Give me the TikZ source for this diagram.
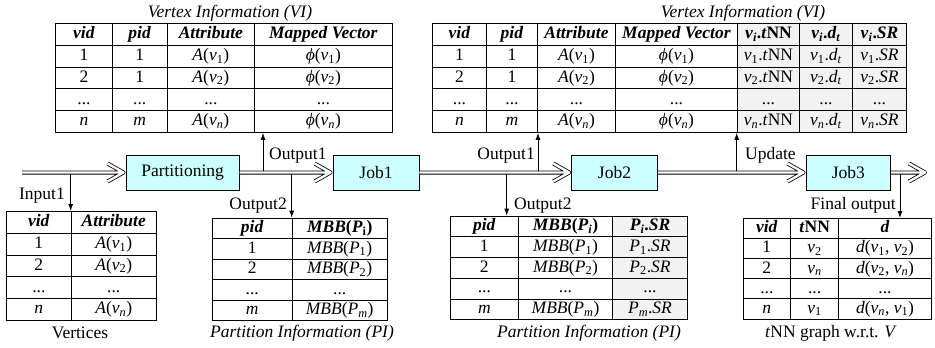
\documentclass[tikz,border=0pt]{standalone}
\usepackage{fontspec}
\setmainfont{Liberation Serif}[UprightFont=*, BoldFont=* Bold, ItalicFont=* Italic, BoldItalicFont=* Bold Italic]
\usetikzlibrary{matrix,arrows.meta}
\definecolor{boxfill}{HTML}{CCFFFF}
\definecolor{shade}{HTML}{F2F2F2}
\newcommand\sbs[1]{\textsubscript{#1}}
\newcommand\vv[1]{\textit{v}\sbs{#1}}
\newcommand\bi[1]{\textbf{\textit{#1}}}
\newcommand\ph[1]{\textit{ϕ}(\vv{#1})}
\tikzset{
  tbl/.style={matrix of nodes, outer sep=0pt, inner sep=0pt, row sep=-1pt, column sep=-1pt, anchor=north west,
    nodes={draw, line width=1pt, inner sep=0pt, text height=12.5pt, text depth=4pt, anchor=center}},
  rh/.style={nodes={minimum height=#1}},
  cw/.style={nodes={minimum width=#1}},
  sh/.style={nodes={fill=shade}},
  job/.style={draw, fill=boxfill, line width=0.9pt, minimum height=35pt, inner sep=0pt},
  flowouter/.style={draw=black, line width=4pt, line join=round},
  flowinner/.style={draw=white, line width=2.4pt, line join=round},
  conn/.style={line width=0.9pt, -{Latex[length=7pt,width=5pt]}},
  lbl/.style={inner sep=0pt},
}
% double-line flow arrow with open double chevron head: from #1 to #2
\newcommand\flowarrow[2]{%
  \foreach \fstyle in {flowouter,flowinner}{%
    \draw[\fstyle] (#1) -- ([xshift=-3pt]#2)
      ([xshift=-18pt,yshift=9pt]#2) -- ([xshift=-2pt]#2) -- ([xshift=-18pt,yshift=-9pt]#2);
  }%
}
\begin{document}
\begin{tikzpicture}[x=1pt, y=-1pt, font=\fontsize{17.5}{21}\selectfont]
\useasboundingbox (0,0) rectangle (935,348);

% ---------- tables ----------
\matrix[tbl, rh=21.7pt, column 1/.style={cw=56.4pt}, column 2/.style={cw=55pt},
  column 3/.style={cw=87.3pt}, column 4/.style={cw=137.7pt}] (vi1) at (55.3,23.3) {
  \bi{vid} & \bi{pid} & \bi{Attribute} & \bi{Mapped Vector} \\
  1 & 1 & \textit{A}(\vv{1}) & \ph{1} \\
  2 & 1 & \textit{A}(\vv{2}) & \ph{2} \\
  ... & ... & ... & ... \\
  \textit{n} & \textit{m} & \textit{A}(\vv{\textit{n}}) & \ph{\textit{n}} \\
};

\matrix[tbl, rh=21.7pt, column 1/.style={cw=54pt}, column 2/.style={cw=51pt},
  column 3/.style={cw=78pt}, column 4/.style={cw=122pt},
  column 5/.style={cw=62pt, sh}, column 6/.style={cw=53pt, sh}, column 7/.style={cw=54pt, sh}] (vi2) at (432,23.3) {
  \bi{vid} & \bi{pid} & \bi{Attribute} & \bi{Mapped Vector} &
  \bi{v}\sbs{\bi{i}}\textbf{.}\bi{t}\textbf{NN} & \bi{v}\sbs{\bi{i}}\textbf{.}\bi{d}\sbs{\bi{t}} & \bi{v}\sbs{\bi{i}}\textbf{.}\bi{SR} \\
  1 & 1 & \textit{A}(\vv{1}) & \ph{1} & \vv{1}.\textit{t}NN & \vv{1}.\textit{d}\sbs{\textit{t}} & \vv{1}.\textit{SR} \\
  2 & 1 & \textit{A}(\vv{2}) & \ph{2} & \vv{2}.\textit{t}NN & \vv{2}.\textit{d}\sbs{\textit{t}} & \vv{2}.\textit{SR} \\
  ... & ... & ... & ... & ... & ... & ... \\
  \textit{n} & \textit{m} & \textit{A}(\vv{\textit{n}}) & \ph{\textit{n}} & \vv{\textit{n}}.\textit{t}NN & \vv{\textit{n}}.\textit{d}\sbs{\textit{t}} & \vv{\textit{n}}.\textit{SR} \\
};

\matrix[tbl, rh=21.8pt, column 1/.style={cw=64.7pt}, column 2/.style={cw=85pt}] (vert) at (6,211) {
  \bi{vid} & \bi{Attribute} \\
  1 & \textit{A}(\vv{1}) \\
  2 & \textit{A}(\vv{2}) \\
  ... & ... \\
  \textit{n} & \textit{A}(\vv{\textit{n}}) \\
};

\matrix[tbl, rh=20.5pt, column 1/.style={cw=80pt}, column 2/.style={cw=95pt}] (pi1) at (211.7,217.7) {
  \bi{pid} & \bi{MBB}\textbf{(}\bi{P}\sbs{\textbf{i}}\textbf{)} \\
  1 & \textit{MBB}(\textit{P}\sbs{1}) \\
  2 & \textit{MBB}(\textit{P}\sbs{2}) \\
  ... & ... \\
  \textit{m} & \textit{MBB}(\textit{P}\sbs{\textit{m}}) \\
};

\matrix[tbl, rh=20.7pt, column 1/.style={cw=67.7pt}, column 2/.style={cw=94.6pt},
  column 3/.style={cw=74.4pt, sh}] (pi2) at (450,215.7) {
  \bi{pid} & \bi{MBB}\textbf{(}\bi{P}\sbs{\bi{i}}\textbf{)} & \bi{P}\sbs{\bi{i}}\textbf{.}\bi{SR} \\
  1 & \textit{MBB}(\textit{P}\sbs{1}) & \textit{P}\sbs{1}.\textit{SR} \\
  2 & \textit{MBB}(\textit{P}\sbs{2}) & \textit{P}\sbs{2}.\textit{SR} \\
  ... & ... & ... \\
  \textit{m} & \textit{MBB}(\textit{P}\sbs{\textit{m}}) & \textit{P}\sbs{\textit{m}}.\textit{SR} \\
};

\matrix[tbl, rh=20.1pt, column 1/.style={cw=47.3pt}, column 2/.style={cw=48.3pt},
  column 3/.style={cw=92.4pt}] (tnn) at (742.7,218) {
  \bi{vid} & \bi{t}\textbf{NN} & \bi{d} \\
  1 & \vv{2} & \textit{d}(\vv{1}, \vv{2}) \\
  2 & \vv{\textit{n}} & \textit{d}(\vv{2}, \vv{\textit{n}}) \\
  ... & ... & ... \\
  \textit{n} & \vv{1} & \textit{d}(\vv{\textit{n}}, \vv{1}) \\
};

% ---------- captions ----------
\node[lbl, anchor=base] (cap1) at (230,17) {\textit{Vertex Information (VI)}};
\node[lbl, anchor=base] (cap2) at (743,17) {\textit{Vertex Information (VI)}};
\node[lbl, anchor=base] (cap3) at (80,338) {Vertices};
\node[lbl, anchor=base] (cap4) at (302,337) {\textit{Partition Information (PI)}};
\node[lbl, anchor=base] (cap5) at (589,337) {\textit{Partition Information (PI)}};
\node[lbl, anchor=base] (cap6) at (831,337) {\textit{t}NN graph w.r.t. \textit{V}};

% ---------- process boxes ----------
\node[job, minimum width=113.3pt] (part) at (182.6,172.5) {Partitioning};
\node[job, minimum width=86pt] (job1) at (376,172.5) {Job1};
\node[job, minimum width=85.6pt] (job2) at (614.5,172.5) {Job2};
\node[job, minimum width=84.7pt] (job3) at (848.3,172.5) {Job3};

% ---------- branch points ----------
\coordinate (start) at (22,172.5);
\coordinate (in1) at (70.7,172.5);
\coordinate (o1a) at (263,172.5);
\coordinate (o2a) at (291.7,172.5);
\coordinate (o2b) at (506.7,172.5);
\coordinate (o1b) at (538,172.5);
\coordinate (upd) at (736.7,172.5);
\coordinate (fin) at (900,172.5);
\coordinate (flowend) at (927,172.5);

% ---------- vertical connectors ----------
\draw[conn] (in1) -- (in1 |- vert.north);
\draw[conn] (o1a) -- (o1a |- vi1.south);
\draw[conn] (o2a) -- (o2a |- pi1.north);
\draw[conn] (o2b) -- (o2b |- pi2.north);
\draw[conn] (o1b) -- (o1b |- vi2.south);
\draw[conn] (upd) -- (upd |- vi2.south);
\draw[conn] (fin) -- (fin |- tnn.north);

% ---------- main flow ----------
\flowarrow{start}{part.west}
\flowarrow{part.east}{job1.west}
\flowarrow{job1.east}{job2.west}
\flowarrow{job2.east}{job3.west}
\flowarrow{job3.east}{flowend}

% ---------- connector labels ----------
\node[lbl, anchor=base east] (lin1) at (65,199) {Input1};
\node[lbl, anchor=base west] (lo1a) at (269,159) {Output1};
\node[lbl, anchor=base east] (lo2a) at (287,209) {Output2};
\node[lbl, anchor=base west] (lo2b) at (514,209) {Output2};
\node[lbl, anchor=base east] (lo1b) at (535,159) {Output1};
\node[lbl, anchor=base west] (lupd) at (745,159) {Update};
\node[lbl, anchor=base east] (lfin) at (896,209) {Final output};
\end{tikzpicture}
\end{document}
